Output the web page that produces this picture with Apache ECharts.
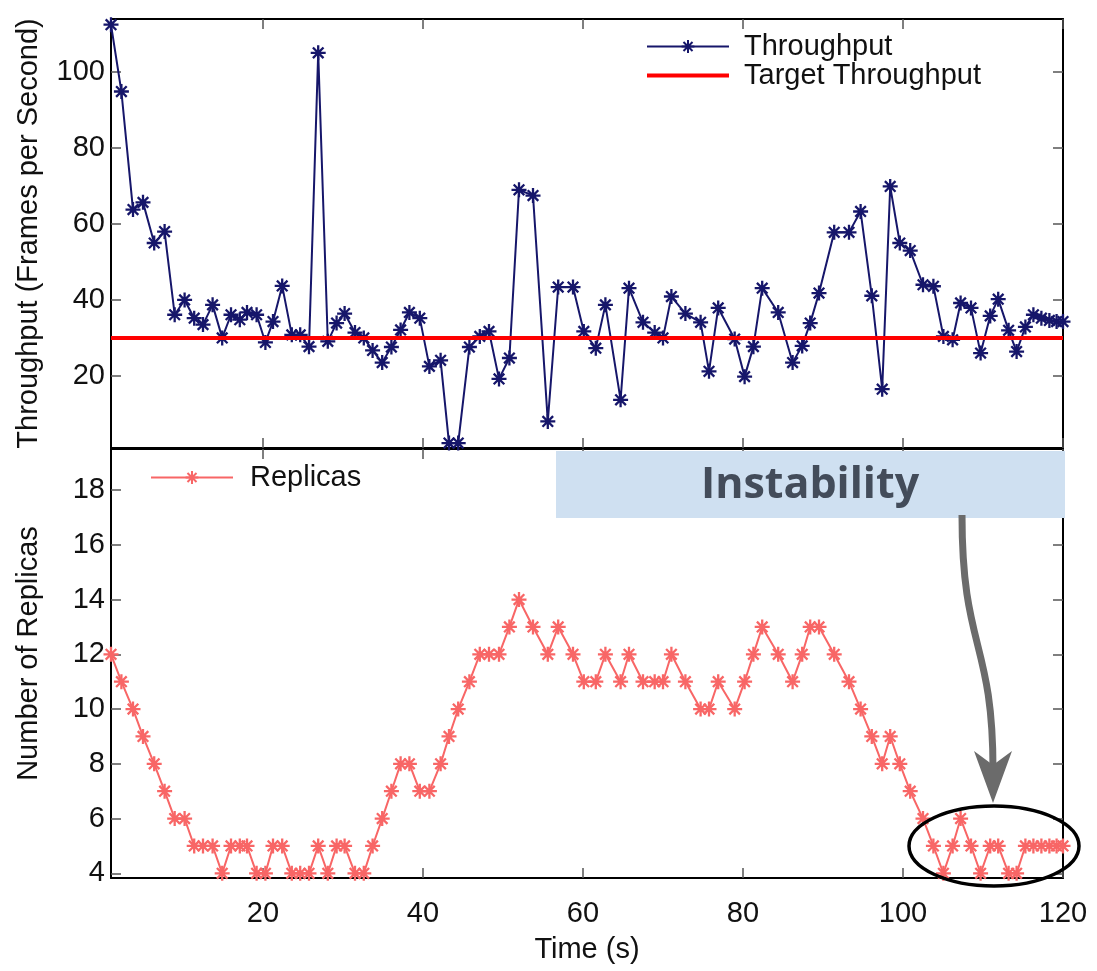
<!DOCTYPE html>
<html><head><meta charset="utf-8">
<script src="https://cdn.jsdelivr.net/npm/echarts@6/dist/echarts.min.js"></script>
<style>html,body{margin:0;padding:0;background:#fff}#c{width:1097px;height:971px}</style>
</head><body><div id="c"></div>
<script>
// ---- data ----
const times = [
  1.0, 2.3, 3.75, 5.0, 6.4, 7.7, 8.96, 10.2, 11.4, 12.5,
  13.7, 14.9, 16.0, 17.1, 18.0, 19.2, 20.3, 21.25, 22.4, 23.6,
  24.65, 25.75, 26.9, 28.1, 29.2, 30.2, 31.5, 32.6, 33.7, 34.9,
  36.05, 37.2, 38.3, 39.6, 40.8, 42.2, 43.25, 44.4, 45.8, 47.1,
  48.25, 49.5, 50.8, 52.0, 53.75, 55.6, 56.9, 58.75, 60.1, 61.6,
  62.8, 64.7, 65.75, 67.5, 68.96, 70.0, 71.05, 72.8, 74.7, 75.75,
  76.9, 78.96, 80.2, 81.3, 82.4, 84.4, 86.2, 87.4, 88.4, 89.5,
  91.4, 93.25, 94.7, 96.1, 97.4, 98.4, 99.6, 100.9, 102.5, 103.8,
  105.05, 106.2, 107.2, 108.5, 109.7, 110.9, 111.9, 113.2, 114.2, 115.3,
  116.3, 117.3, 118.3, 119.2, 120.0
];
const throughput = [
  112.5, 94.9, 63.8, 65.7, 55.0, 58.0, 36.1, 40.0, 35.2, 33.5,
  38.7, 30.0, 36.1, 34.8, 36.7, 36.1, 28.8, 34.3, 43.7, 30.8,
  30.8, 27.7, 105.1, 29.1, 33.9, 36.4, 31.4, 30.0, 26.7, 23.5,
  27.6, 32.1, 36.7, 35.2, 22.5, 24.1, 2.3, 2.3, 27.6, 30.4,
  31.7, 19.2, 24.7, 69.0, 67.5, 8.0, 43.4, 43.4, 31.7, 27.3,
  38.7, 13.7, 43.1, 34.1, 31.4, 30.0, 40.9, 36.4, 34.1, 21.2,
  37.9, 29.7, 19.8, 27.7, 43.1, 36.7, 23.5, 27.9, 33.9, 41.8,
  57.8, 57.8, 63.3, 41.1, 16.5, 69.9, 55.0, 53.0, 44.0, 43.6,
  30.4, 29.5, 39.2, 37.9, 26.0, 35.8, 40.2, 32.0, 26.4, 32.9,
  36.1, 35.2, 34.6, 34.3, 34.3
];
const replicas = [
  12, 11, 10, 9, 8, 7, 6, 6, 5, 5,
  5, 4, 5, 5, 5, 4, 4, 5, 5, 4,
  4, 4, 5, 4, 5, 5, 4, 4, 5, 6,
  7, 8, 8, 7, 7, 8, 9, 10, 11, 12,
  12, 12, 13, 14, 13, 12, 13, 12, 11, 11,
  12, 11, 12, 11, 11, 11, 12, 11, 10, 10,
  11, 10, 11, 12, 13, 12, 11, 12, 13, 13,
  12, 11, 10, 9, 8, 9, 8, 7, 6, 5,
  4, 5, 6, 5, 4, 5, 5, 4, 4, 5,
  5, 5, 5, 5, 5
];
const targetThroughput = 30;
const xTicks = [20, 40, 60, 80, 100, 120];
const yTopTicks = [20, 40, 60, 80, 100];
const yBottomTicks = [4, 6, 8, 10, 12, 14, 16, 18];

// ---- chart ----
const NAVY = '#16166a';
const SALMON = '#f86666';
const STAR = 'path://M0,6L12,6M6,0L6,12M1.76,1.76L10.24,10.24M10.24,1.76L1.76,10.24';
const FONT = '"Liberation Sans", Arial, sans-serif';

const tpData = times.map((t, i) => [t, throughput[i]]);
const repData = times.map((t, i) => [t, replicas[i]]);
const tgtData = [[times[0], targetThroughput], [times[times.length - 1], targetThroughput]];

function xAx(grid, pos, labels) {
  return {
    gridIndex: grid, type: 'value', position: pos, min: 1, max: 120,
    axisLine: {show: true, onZero: false, lineStyle: {color: '#000', width: 2}},
    axisTick: {show: true, inside: true, length: 10, customValues: xTicks, lineStyle: {color: '#555', width: 1.5}},
    axisLabel: {show: labels, customValues: xTicks, fontSize: 29, color: '#111', margin: 21, fontFamily: FONT},
    splitLine: {show: false}
  };
}
function yAx(grid, pos, min, max, ticks, labels) {
  return {
    gridIndex: grid, type: 'value', position: pos, min: min, max: max,
    axisLine: {show: true, onZero: false, lineStyle: {color: '#000', width: 2}},
    axisTick: {show: true, inside: true, length: 10, customValues: ticks, lineStyle: {color: '#555', width: 1.5}},
    axisLabel: {show: labels, customValues: ticks, fontSize: 29, color: '#111', margin: 6, fontFamily: FONT},
    splitLine: {show: false}
  };
}

const xAxes = [xAx(0, 'bottom', false), xAx(0, 'top', false), xAx(1, 'bottom', true), xAx(1, 'top', false)];
Object.assign(xAxes[2], {name: 'Time (s)', nameLocation: 'middle', nameGap: 57,
  nameTextStyle: {fontSize: 29, color: '#111', fontFamily: FONT}});

const yAxes = [
  yAx(0, 'left', 1, 114, yTopTicks, true), yAx(0, 'right', 1, 114, yTopTicks, false),
  yAx(1, 'left', 3.83, 19.5, yBottomTicks, true), yAx(1, 'right', 3.83, 19.5, yBottomTicks, false)
];
Object.assign(yAxes[0], {name: 'Throughput (Frames per Second)', nameLocation: 'middle', nameGap: 68, nameRotate: 90,
  nameTextStyle: {fontSize: 29, color: '#111', fontFamily: FONT}});
Object.assign(yAxes[2], {name: 'Number of Replicas', nameLocation: 'middle', nameGap: 68, nameRotate: 90,
  nameTextStyle: {fontSize: 29, color: '#111', fontFamily: FONT, padding: [0, 0, 0, 20]}});

const chart = echarts.init(document.getElementById('c'), null, {renderer: 'canvas'});
chart.setOption({
  animation: false,
  backgroundColor: '#fff',
  textStyle: {fontFamily: FONT},
  grid: [
    {left: 111, top: 19, width: 952, height: 429},
    {left: 111, top: 449, width: 952, height: 429}
  ],
  xAxis: xAxes,
  yAxis: yAxes,
  legend: [
    {data: [
       {name: 'Throughput', lineStyle: {width: 2}},
       {name: 'Target Throughput', itemStyle: {opacity: 0}, lineStyle: {width: 4}}
     ], left: 640, top: 27, orient: 'vertical',
     itemWidth: 82, itemHeight: 16, itemGap: 0,
     textStyle: {fontSize: 29, color: '#111', padding: [0, 0, 0, 10], fontFamily: FONT}},
    {data: [{name: 'Replicas', lineStyle: {width: 2}}], left: 145, top: 458, orient: 'vertical',
     itemWidth: 82, itemHeight: 16,
     textStyle: {fontSize: 29, color: '#111', padding: [0, 0, 0, 12], fontFamily: FONT}}
  ],
  series: [
    {name: 'Throughput', type: 'line', xAxisIndex: 0, yAxisIndex: 0, data: tpData,
     symbol: STAR, symbolSize: 15, showAllSymbol: true,
     lineStyle: {color: NAVY, width: 2},
     itemStyle: {color: 'rgba(0,0,0,0)', borderColor: NAVY, borderWidth: 2.3},
     emphasis: {disabled: true}, z: 2},
    {name: 'Target Throughput', type: 'line', xAxisIndex: 0, yAxisIndex: 0, data: tgtData,
     symbol: 'none', lineStyle: {color: '#ff0000', width: 4}, itemStyle: {color: '#ff0000'},
     emphasis: {disabled: true}, z: 3},
    {name: 'Replicas', type: 'line', xAxisIndex: 2, yAxisIndex: 2, data: repData,
     symbol: STAR, symbolSize: 15, showAllSymbol: true,
     lineStyle: {color: SALMON, width: 2},
     itemStyle: {color: 'rgba(0,0,0,0)', borderColor: SALMON, borderWidth: 2.3},
     emphasis: {disabled: true}, z: 2}
  ],
  graphic: [
    {type: 'rect', z: 100, shape: {x: 556, y: 451, width: 509, height: 67}, style: {fill: '#cfe0f1'}},
    {type: 'text', z: 101, style: {text: 'Instability', x: 810, y: 486, align: 'center', verticalAlign: 'middle',
      font: 'bold 43px "Open Sans", sans-serif', fill: '#434c5a'}},
    {type: 'bezierCurve', z: 101, shape: {x1: 962, y1: 515, cpx1: 962, cpy1: 650, cpx2: 993, cpy2: 640, x2: 993, y2: 770},
      style: {stroke: '#6b6b6b', lineWidth: 7, fill: null}},
    {type: 'polygon', z: 101, shape: {points: [[993, 803], [974, 751], [993, 765], [1012, 751]]}, style: {fill: '#6b6b6b'}},
    {type: 'ellipse', z: 102, shape: {cx: 994, cy: 846, rx: 85, ry: 40}, style: {fill: null, stroke: '#000', lineWidth: 3.5}}
  ]
});
</script></body></html>
